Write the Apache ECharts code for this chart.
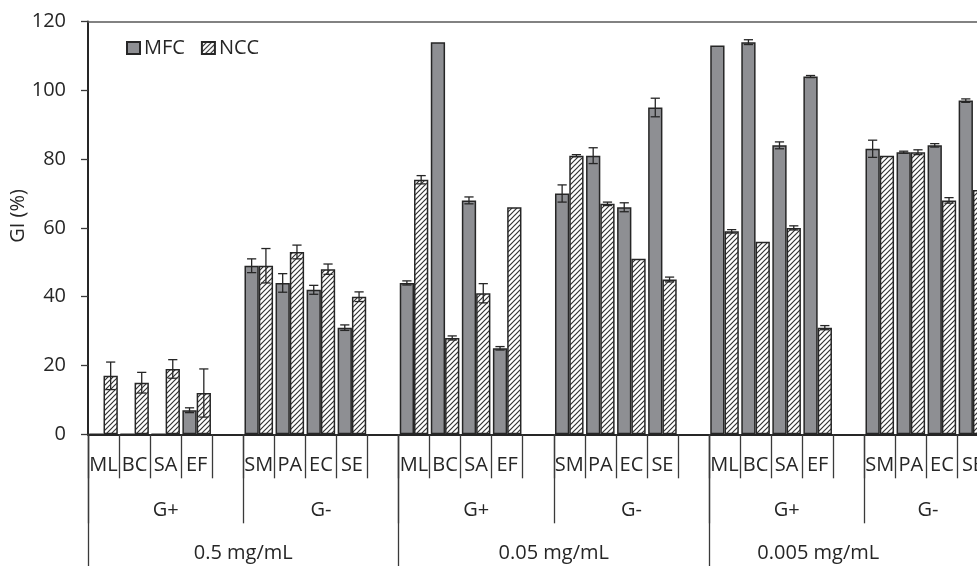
<!DOCTYPE html>
<html>
<head>
<meta charset="utf-8">
<script src="https://cdn.jsdelivr.net/npm/echarts@6/dist/echarts.min.js"></script>
<style>
  html, body { margin: 0; padding: 0; background: #fff; overflow: hidden; }
  #chart { width: 977px; height: 566px; }
</style>
</head>
<body>
<div id="chart"></div>
<script>
// Bacteria per concentration block: G+ four, spacer, G- four, spacer
const bacteria = ['ML', 'BC', 'SA', 'EF', '', 'SM', 'PA', 'EC', 'SE', ''];
const gramGroups = ['G+', 'G-'];
const concentrations = ['0.5 mg/mL', '0.05 mg/mL', '0.005 mg/mL'];
const yTicks = { min: 0, max: 120, interval: 20 };

// Growth inhibition (%) per concentration block, same order as bacteria
const mfc05   = [0, 0, 0, 7, null, 49, 44, 42, 31, null];
const mfc005  = [44, 114, 68, 25, null, 70, 81, 66, 95, null];
const mfc0005 = [113, 114, 84, 104, null, 83, 82, 84, 97, null];

const ncc05   = [17, 15, 19, 12, null, 49, 53, 48, 40, null];
const ncc005  = [74, 28, 41, 66, null, 81, 67, 51, 45, null];
const ncc0005 = [59, 56, 60, 31, null, 81, 82, 68, 71, null];

// Standard deviations
const mfcErr05   = [0, 0, 0, 0.7, null, 2, 2.7, 1.3, 0.8, null];
const mfcErr005  = [0.6, 0, 1, 0.5, null, 2.5, 2.3, 1.3, 2.7, null];
const mfcErr0005 = [0, 0.7, 1, 0.3, null, 2.5, 0.3, 0.5, 0.5, null];

const nccErr05   = [4, 3, 2.7, 7, null, 5, 2, 1.5, 1.4, null];
const nccErr005  = [1.2, 0.6, 2.8, 0, null, 0.3, 0.5, 0, 0.7, null];
const nccErr0005 = [0.5, 0, 0.6, 0.6, null, 0, 0.7, 0.8, 0, null];

const categories = [].concat(bacteria, bacteria, bacteria);
const gramAxis = [].concat(gramGroups, gramGroups, gramGroups);
const mfc = [].concat(mfc05, mfc005, mfc0005);
const ncc = [].concat(ncc05, ncc005, ncc0005);
const mfcErr = [].concat(mfcErr05, mfcErr005, mfcErr0005);
const nccErr = [].concat(nccErr05, nccErr005, nccErr0005);

const FONT = '"Open Sans", "Liberation Sans", sans-serif';
const FS = 20;
const TEXT = '#262626';
const DARK = '#262626';
const CAT_GAP = 0.08;

// Diagonal hatch tile for the NCC bars
function hatchTile() {
  const s = 5;
  const c = document.createElement('canvas');
  c.width = s; c.height = s;
  const ctx = c.getContext('2d');
  ctx.fillStyle = '#ffffff';
  ctx.fillRect(0, 0, s, s);
  ctx.strokeStyle = '#333333';
  ctx.lineWidth = 1.2;
  ctx.beginPath();
  ctx.moveTo(0, s); ctx.lineTo(s, 0);
  ctx.moveTo(-1, 1); ctx.lineTo(1, -1);
  ctx.moveTo(s - 1, s + 1); ctx.lineTo(s + 1, s - 1);
  ctx.stroke();
  return c;
}

function errData(values, errs) {
  const out = [];
  values.forEach((v, i) => {
    if (v != null && errs[i]) out.push([i, v, errs[i]]);
  });
  return out;
}

function errRenderer(side) {
  return function (params, api) {
    const i = api.value(0);
    const v = api.value(1);
    const e = api.value(2);
    const band = api.size([1, 0])[0];
    const bw = band * (1 - CAT_GAP) / 2;
    const cx = api.coord([i, v])[0] + side * bw / 2;
    const yHi = api.coord([i, v + e])[1];
    const yLo = api.coord([i, v - e])[1];
    const cap = 4.6;
    const style = { stroke: DARK, lineWidth: 1.3 };
    return {
      type: 'group',
      children: [
        { type: 'line', shape: { x1: cx, y1: yHi, x2: cx, y2: yLo }, style },
        { type: 'line', shape: { x1: cx - cap, y1: yHi, x2: cx + cap, y2: yHi }, style },
        { type: 'line', shape: { x1: cx - cap, y1: yLo, x2: cx + cap, y2: yLo }, style }
      ]
    };
  };
}

// The last block is cut by the right edge; its group labels sit centred on
// the part that is still in view, so they are nudged left with padding.
const labelStyle = { color: TEXT, fontFamily: FONT, fontSize: FS };
function nudgedLabels(lastIndex, shift) {
  return {
    formatter: (value, index) => index === lastIndex ? '{l|' + value + '}' : value,
    rich: { l: Object.assign({ padding: [0, shift * 2, 0, 0] }, labelStyle) }
  };
}

const chart = echarts.init(document.getElementById('chart'), null, { renderer: 'canvas' });

const baseX = {
  type: 'category',
  gridIndex: 0,
  position: 'bottom',
  boundaryGap: true,
  axisLine: { show: false },
  axisTick: { show: true, interval: 0, lineStyle: { color: '#3a3a3a', width: 1.3 } },
  axisLabel: Object.assign({ interval: 0, verticalAlign: 'middle' }, labelStyle),
  splitLine: { show: false }
};

chart.setOption({
  animation: false,
  backgroundColor: '#ffffff',
  textStyle: { fontFamily: FONT },
  // the plot runs past the right edge; the last G- block is cut off
  grid: {
    left: 88, top: 21.5, width: 931.5, height: 412.8,
    containLabel: false,
    outerBoundsMode: 'none'
  },
  legend: {
    data: ['MFC', 'NCC'],
    left: 121,
    top: 33,
    icon: 'rect',
    itemWidth: 13,
    itemHeight: 12,
    itemGap: 16,
    textStyle: { color: TEXT, fontFamily: FONT, fontSize: FS, padding: [0, 0, 0, -1] }
  },
  graphic: [{
    type: 'text',
    x: 18.5,
    y: 216,
    rotation: Math.PI / 2,
    style: {
      text: 'GI (%)',
      fill: TEXT,
      font: FS + 'px ' + FONT,
      align: 'center',
      verticalAlign: 'middle'
    }
  }],
  xAxis: [
    Object.assign({}, baseX, {
      data: categories,
      axisLine: { show: true, lineStyle: { color: DARK, width: 2 } },
      axisTick: Object.assign({}, baseX.axisTick, { length: 44 }),
      axisLabel: Object.assign({}, baseX.axisLabel, { margin: 31 })
    }),
    Object.assign({}, baseX, {
      data: gramAxis,
      axisTick: Object.assign({}, baseX.axisTick, { length: 89 }),
      axisLabel: Object.assign({}, baseX.axisLabel, { margin: 76 }, nudgedLabels(5, 14))
    }),
    Object.assign({}, baseX, {
      data: concentrations,
      axisTick: Object.assign({}, baseX.axisTick, { length: 132 }),
      axisLabel: Object.assign({}, baseX.axisLabel, { margin: 119 }, nudgedLabels(2, 46))
    }),
    {
      type: 'category',
      gridIndex: 0,
      position: 'top',
      data: categories,
      axisLine: { show: true, lineStyle: { color: '#5a5a5a', width: 1.5 } },
      axisTick: { show: false },
      axisLabel: { show: false },
      splitLine: { show: false }
    }
  ],
  yAxis: {
    type: 'value',
    min: yTicks.min,
    max: yTicks.max,
    interval: yTicks.interval,
    axisLine: { show: true, lineStyle: { color: DARK, width: 2 } },
    axisTick: { show: true, length: 7, lineStyle: { color: '#3a3a3a', width: 1.3 } },
    axisLabel: Object.assign({ margin: 22 }, labelStyle),
    splitLine: { show: false }
  },
  series: [
    {
      name: 'MFC',
      type: 'bar',
      xAxisIndex: 0,
      data: mfc,
      barGap: '0%',
      barCategoryGap: (CAT_GAP * 100) + '%',
      itemStyle: { color: '#8e8f93', borderColor: DARK, borderWidth: 1.5 }
    },
    {
      name: 'NCC',
      type: 'bar',
      xAxisIndex: 0,
      data: ncc,
      barGap: '0%',
      barCategoryGap: (CAT_GAP * 100) + '%',
      itemStyle: {
        color: { image: hatchTile(), repeat: 'repeat' },
        borderColor: DARK,
        borderWidth: 1.5
      }
    },
    {
      type: 'custom',
      xAxisIndex: 0,
      renderItem: errRenderer(-1),
      data: errData(mfc, mfcErr),
      encode: { x: 0, y: 1 },
      z: 5,
      silent: true
    },
    {
      type: 'custom',
      xAxisIndex: 0,
      renderItem: errRenderer(1),
      data: errData(ncc, nccErr),
      encode: { x: 0, y: 1 },
      z: 5,
      silent: true
    }
  ]
});
</script>
</body>
</html>
